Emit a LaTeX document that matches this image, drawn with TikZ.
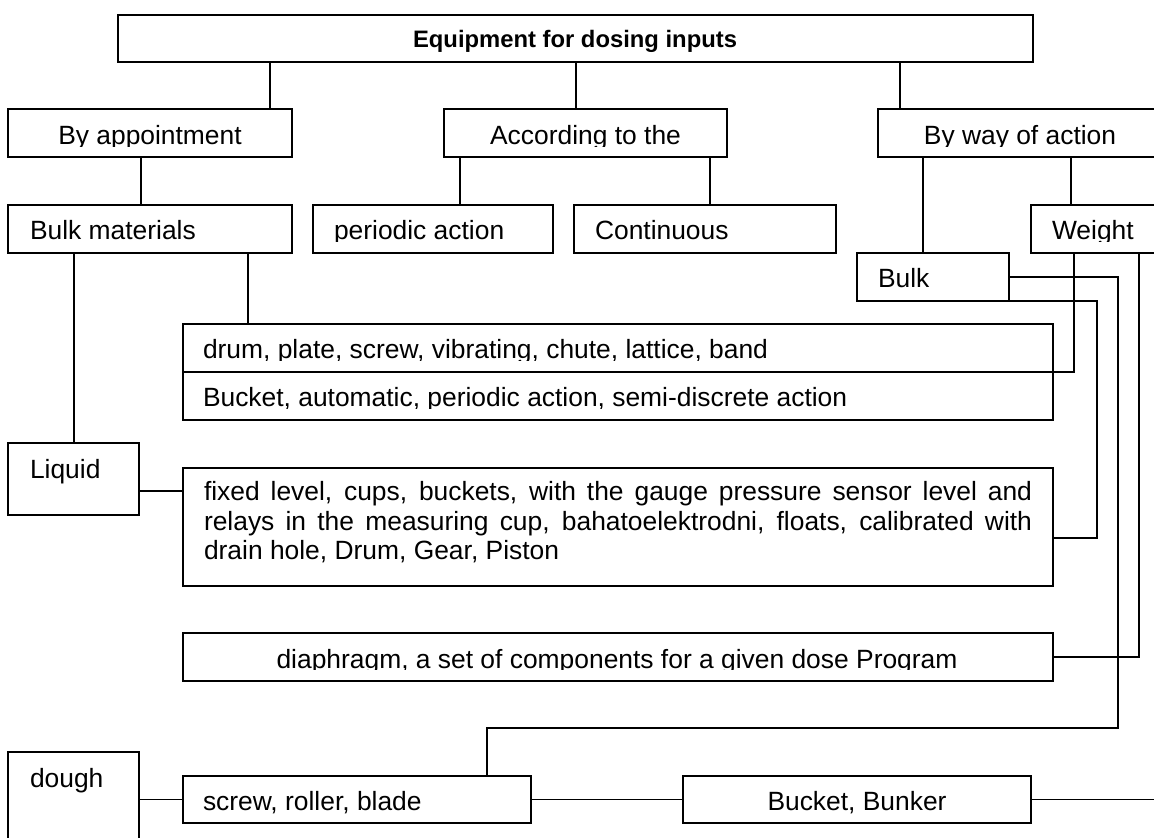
\documentclass[tikz,border=0pt]{standalone}
\usepackage{fontspec}
\setmainfont{Liberation Sans}
\usetikzlibrary{calc}
\tikzset{
  box/.style={draw, line width=1pt, rectangle, inner sep=0pt, outer sep=0pt},
  link/.style={draw, line width=0.85pt},
  txt/.style={inner sep=0pt, outer sep=0pt, font=\fontsize{13.2}{15}\selectfont},
  ttl/.style={inner sep=0pt, outer sep=0pt, font=\fontsize{11.9}{14}\selectfont\bfseries},
}
\newcommand\MkBox[5]{\node[box, minimum width={(#4-#2)*0.5pt}, minimum height={(#5-#3)*0.5pt}] (#1) at ({(#2+#4)/2},{(#3+#5)/2}) {};}
\newcommand\TxtL[4]{\node[txt, anchor=base west] (#1) at (#2,#3) {#4};}
\newcommand\TxtC[4]{\node[txt, anchor=base] (#1) at (#2,#3) {#4};}
\newcommand\CutAt[1]{\clip (-10,{#1-60}) rectangle (1170,{#1+1.8});}
\begin{document}
\begin{tikzpicture}[x=0.5pt,y=-0.5pt]
\useasboundingbox (0,0) rectangle (1154,838);
\fill[white] (0,0) rectangle (1154,838);
\clip (0,0) rectangle (1154,838);
% boxes
\MkBox{T}{118}{15}{1033}{62}
\MkBox{BA}{8}{109}{292}{157}
\MkBox{AT}{444}{109}{727}{157}
\MkBox{BW}{878}{109}{1165}{157}
\MkBox{BM}{8}{205}{292}{253}
\MkBox{PA}{313}{205}{553}{253}
\MkBox{CO}{574}{205}{836}{253}
\MkBox{WE}{1031}{205}{1165}{253}
\MkBox{BU}{857}{253}{1009}{301}
\MkBox{DR}{183}{324}{1053}{372}
\MkBox{BK}{183}{372}{1053}{420}
\MkBox{LQ}{8}{443}{139}{515}
\MkBox{FX}{183}{468}{1053}{586}
\MkBox{DI}{183}{633}{1053}{681}
\MkBox{DO}{8}{752}{139}{880}
\MkBox{SC}{183}{776}{531}{823}
\MkBox{BB}{683}{776}{1031}{823}
% texts
\node[ttl, anchor=base] (T-t) at (575,47.5) {Equipment for dosing inputs};
\begin{scope}\CutAt{145}\TxtC{BA-t}{150}{145}{By appointment}\end{scope}
\begin{scope}\CutAt{145}\TxtC{AT-t}{585.5}{145}{According to the}\end{scope}
\begin{scope}\CutAt{145}\TxtC{BW-t}{1020}{145}{By way of action}\end{scope}
\TxtL{BM-t}{30}{240}{Bulk materials}
\begin{scope}\CutAt{239.5}\TxtL{PA-t}{334}{239.5}{periodic action}\end{scope}
\TxtL{CO-t}{595}{240}{Continuous}
\begin{scope}\CutAt{240}\TxtL{WE-t}{1052}{240}{Weight}\end{scope}
\TxtL{BU-t}{878}{288}{Bulk}
\begin{scope}\CutAt{359}\TxtL{DR-t}{203}{359}{drum, plate, screw, vibrating, chute, lattice, band}\end{scope}
\begin{scope}\CutAt{407}\TxtL{BK-t}{203}{407}{Bucket, automatic, periodic action, semi-discrete action}\end{scope}
\TxtL{LQ-t}{30}{479}{Liquid}
\TxtL{FX-1}{204}{501}{\makebox[414pt][s]{fixed level, cups, buckets, with the gauge pressure sensor level and}}
\TxtL{FX-2}{204}{530}{\makebox[414pt][s]{relays in the measuring cup, bahatoelektrodni, floats, calibrated with}}
\TxtL{FX-3}{204}{559}{drain hole, Drum, Gear, Piston}
\begin{scope}\CutAt{668}\TxtC{DI-t}{617}{668}{diaphragm, a set of components for a given dose Program}\end{scope}
\TxtL{DO-t}{30}{787}{dough}
\TxtL{SC-t}{203}{810}{screw, roller, blade}
\TxtC{BB-t}{857}{810}{Bucket, Bunker}
% connector coordinates
\coordinate (c1) at (270,0);
\coordinate (c2) at (576,0);
\coordinate (c3) at (900,0);
\coordinate (c4) at (141,0);
\coordinate (c5) at (460,0);
\coordinate (c6) at (710,0);
\coordinate (c7) at (923,0);
\coordinate (c8) at (1071,0);
\coordinate (c9) at (74,0);
\coordinate (c10) at (248,0);
\coordinate (c11) at (0,491);
\coordinate (c12) at (1074,0);
\coordinate (c13) at (1139,0);
\coordinate (c14) at (1118,277);
\coordinate (c15) at (487,728);
\coordinate (c16) at (1097,538);
\coordinate (c17) at (1160,0);
% connectors
\draw[link] (T.south -| c1) -- (BA.north -| c1);
\draw[link] (T.south -| c2) -- (AT.north -| c2);
\draw[link] (T.south -| c3) -- (BW.north -| c3);
\draw[link] (BA.south -| c4) -- (BM.north -| c4);
\draw[link] (AT.south -| c5) -- (PA.north -| c5);
\draw[link] (AT.south -| c6) -- (CO.north -| c6);
\draw[link] (BW.south -| c7) -- (BU.north -| c7);
\draw[link] (BW.south -| c8) -- (WE.north -| c8);
\draw[link] (BM.south -| c9) -- (LQ.north -| c9);
\draw[link] (BM.south -| c10) -- (DR.north -| c10);
\draw[link] (LQ.east |- c11) -- (FX.west |- c11);
\draw[link] (WE.south -| c12) |- (DR.south east);
\draw[link] (WE.south -| c13) |- (DI.east);
\draw[link] (BU.east |- c14) -- (c14) |- (c15) -- (SC.north -| c15);
\draw[link] (BU.south east) -| (c16) -- (FX.east |- c16);
\draw[link] (DO.east |- SC.west) -- (SC.west);
\draw[link] (SC.east) -- (BB.west);
\draw[link] (BB.east) -- (BB.east -| c17);
\end{tikzpicture}
\end{document}
